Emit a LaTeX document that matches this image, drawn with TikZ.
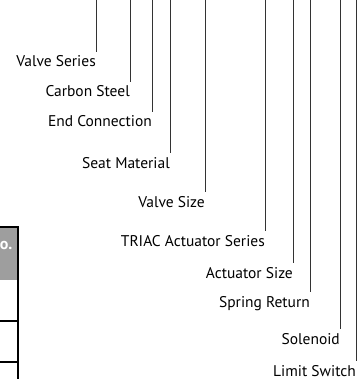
\documentclass[tikz,border=0pt]{standalone}
\usepackage{fontspec}
\setmainfont{PT Sans}
\usetikzlibrary{positioning}
\begin{document}
\begin{tikzpicture}[x=1pt, y=-1pt,
			callout/.style={anchor=base east, inner xsep=0pt, inner ysep=4pt,
				font=\fontsize{15.5}{18}\selectfont},
			leader/.style={draw=black!80, line width=0.8pt},
			rule/.style={draw=black, line width=1.6pt}
			]
			\useasboundingbox (0,0) rectangle (361,379);
			\coordinate (top) at (0,0);
			
			% piece of the ordering table on the left
			\fill[black!38] (0,227) rectangle (18,280);
			\node[anchor=base east, inner sep=0pt, text=white,
				font=\bfseries\fontsize{16}{18}\selectfont] (hdr) at (12.5,249) {No.};
			\draw[rule] (0,227) -- (18,227) -- (18,379);
			\draw[rule] (0,321) -- (18,321);
			\draw[rule] (0,362) -- (18,362);
			
			\node[callout] (series)   at (96,67)   {Valve Series};
			\node[callout] (steel)    at (130,97)  {Carbon Steel};
			\node[callout] (ends)     at (152,127) {End Connection};
			\node[callout] (seat)     at (170,168) {Seat Material};
			\node[callout] (vsize)    at (205,207) {Valve Size};
			\node[callout] (triac)    at (265,246) {TRIAC Actuator Series};
			\node[callout] (asize)    at (293,278) {Actuator Size};
			\node[callout] (spring)   at (310,307) {Spring Return};
			\node[callout] (solenoid) at (340,344) {Solenoid};
			\node[callout] (limit)    at (356,376) {Limit Switch};
			
			\draw[leader] (series.north east)   -- (series.north east |- top);
			\draw[leader] (steel.north east)    -- (steel.north east |- top);
			\draw[leader] (ends.north east)     -- (ends.north east |- top);
			\draw[leader] (seat.north east)     -- (seat.north east |- top);
			\draw[leader] (vsize.north east)    -- (vsize.north east |- top);
			\draw[leader] (triac.north east)    -- (triac.north east |- top);
			\draw[leader] (asize.north east)    -- (asize.north east |- top);
			\draw[leader] (spring.north east)   -- (spring.north east |- top);
			\draw[leader] (solenoid.north east) -- (solenoid.north east |- top);
			\draw[leader] (limit.north east)    -- (limit.north east |- top);
		\end{tikzpicture}
\end{document}
